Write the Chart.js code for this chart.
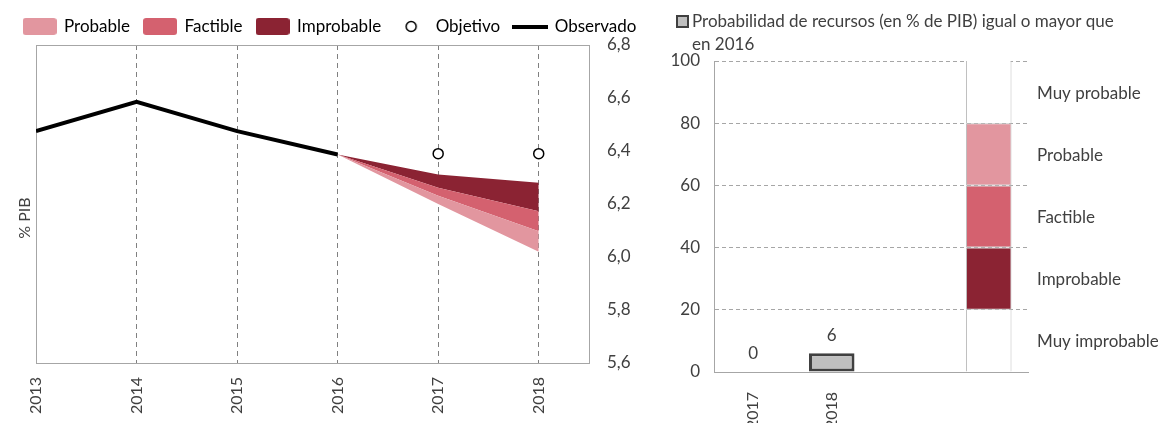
<!DOCTYPE html>
<html>
<head>
<meta charset="utf-8">
<script src="https://cdn.jsdelivr.net/npm/chart.js@4.4.0/dist/chart.umd.min.js"></script>
<style>
  body { margin: 0; background: #fff; }
  #wrap { position: relative; width: 1158px; height: 423px; }
  #left { position: absolute; left: 0; top: 0; }
  #right { position: absolute; left: 660px; top: 0; }
</style>
</head>
<body>
<div id="wrap">
  <canvas id="left" width="660" height="423"></canvas>
  <canvas id="right" width="498" height="423"></canvas>
</div>
<script>
// left panel: % PIB
const years = [2013, 2014, 2015, 2016, 2017, 2018];
const observado = [6.475, 6.586, 6.475, 6.387, null, null];
const objetivo = [null, null, null, null, 6.39, 6.39];
const probableLow = [null, null, null, 6.387, 6.200, 6.020];
const factibleLow = [null, null, null, 6.387, 6.231, 6.097];
const improbableLow = [null, null, null, 6.387, 6.261, 6.173];
const improbableHigh = [null, null, null, 6.387, 6.311, 6.280];

// right panel: probability
const barYears = ['2017', '2018', '', ''];
const recursos = [0, 6, null, null];
const escalaNames = ['Muy improbable', 'Improbable', 'Factible', 'Probable', 'Muy probable'];
const escalaSize = [20, 20, 20, 20, 20];

const colProbable = '#e2969f';
const colFactible = '#d4616f';
const colImprobable = '#8b2333';
const grayLine = '#a6a6a6';
const textCol = '#404040';
const fontName = 'Lato, "Open Sans", sans-serif';

function icon(w, h, draw) {
    const c = document.createElement('canvas');
    c.width = w; c.height = h;
    draw(c.getContext('2d'));
    return c;
}
function boxIcon(color) {
    return icon(34, 17, function (ctx) {
        ctx.fillStyle = color;
        ctx.beginPath();
        ctx.roundRect(0, 0, 34, 17, 3);
        ctx.fill();
    });
}
const circleIcon = icon(34, 17, function (ctx) {
    ctx.beginPath();
    ctx.arc(17, 8.5, 5, 0, Math.PI * 2);
    ctx.fillStyle = '#fff';
    ctx.fill();
    ctx.lineWidth = 1.5;
    ctx.strokeStyle = '#000';
    ctx.stroke();
});
const lineIcon = icon(36, 17, function (ctx) {
    ctx.fillStyle = '#000';
    ctx.fillRect(0, 7, 36, 4);
});

const legendItems = [
    { text: 'Probable', pointStyle: boxIcon(colProbable) },
    { text: 'Factible', pointStyle: boxIcon(colFactible) },
    { text: 'Improbable', pointStyle: boxIcon(colImprobable) },
    { text: 'Objetivo', pointStyle: circleIcon },
    { text: 'Observado', pointStyle: lineIcon }
];

const plotFrame = {
    id: 'plotFrame',
    beforeDatasetsDraw(chart) {
        const a = chart.chartArea, ctx = chart.ctx;
        ctx.save();
        ctx.strokeStyle = grayLine;
        ctx.lineWidth = 1;
        ctx.strokeRect(a.left + 0.5, a.top + 0.5, a.right - a.left, a.bottom - a.top);
        ctx.restore();
    },
    afterDraw(chart) {
        const ctx = chart.ctx;
        ctx.save();
        ctx.font = '16px ' + fontName;
        ctx.fillStyle = textCol;
        ctx.translate(25, 218);
        ctx.rotate(-Math.PI / 2);
        ctx.textAlign = 'center';
        ctx.textBaseline = 'middle';
        ctx.fillText('% PIB', 0, 0);
        ctx.restore();
    }
};

new Chart(document.getElementById('left'), {
    type: 'line',
    data: {
        labels: years,
        datasets: [
            { label: 'probLow', data: probableLow, borderWidth: 0, pointRadius: 0, fill: false, order: 5 },
            { label: 'Probable', data: factibleLow, borderWidth: 0, pointRadius: 0, fill: '-1', backgroundColor: colProbable, order: 5 },
            { label: 'Factible', data: improbableLow, borderWidth: 0, pointRadius: 0, fill: '-1', backgroundColor: colFactible, order: 5 },
            { label: 'Improbable', data: improbableHigh, borderWidth: 0, pointRadius: 0, fill: '-1', backgroundColor: colImprobable, order: 5 },
            { label: 'Observado', data: observado, borderColor: '#000', borderWidth: 4, pointRadius: 0, fill: false, order: 1 },
            { label: 'Objetivo', data: objetivo, showLine: false, pointRadius: 5, pointBackgroundColor: '#fff',
              pointBorderColor: '#000', pointBorderWidth: 1.5, order: 0 }
        ].map(ds => Object.assign(ds, { yAxisID: 'y' }))
    },
    options: {
        responsive: false,
        animation: false,
        layout: { padding: { top: 4 } },
        plugins: {
            legend: {
                onClick: null,
                labels: {
                    usePointStyle: true,
                    pointStyleWidth: 32,
                    boxHeight: 17,
                    padding: 14,
                    color: '#333',
                    font: { family: fontName, size: 17 },
                    generateLabels: () => legendItems.map((it, i) => ({
                        text: it.text, pointStyle: it.pointStyle, fillStyle: '#fff',
                        strokeStyle: '#fff', lineWidth: 0, hidden: false, datasetIndex: i
                    }))
                }
            },
            tooltip: { enabled: false }
        },
        scales: {
            x: {
                type: 'linear',
                min: 2013, max: 2018.5,
                afterFit: s => { s.height = 60; },
                ticks: {
                    stepSize: 1, includeBounds: false, minRotation: 90, maxRotation: 90, padding: 14,
                    color: textCol, font: { family: fontName, size: 16 },
                    callback: v => String(v)
                },
                grid: {
                    drawTicks: false,
                    color: c => (c.tick && c.tick.value === 2013) ? 'transparent' : '#808080'
                },
                border: { display: false, dash: [5, 4] }
            },
            y: {
                position: 'right',
                min: 5.6, max: 6.8,
                afterFit: s => { s.width = 71; },
                ticks: {
                    stepSize: 0.2, padding: 18, color: textCol, font: { family: fontName, size: 17 },
                    callback: v => v.toFixed(1).replace('.', ',')
                },
                grid: { display: false, drawTicks: false },
                border: { display: false }
            },
            yl: {
                position: 'left',
                afterFit: s => { s.width = 36; },
                ticks: { display: false },
                grid: { display: false },
                border: { display: false }
            }
        }
    },
    plugins: [plotFrame]
});

// right chart
const segColors = ['#fff', colImprobable, colFactible, colProbable, '#fff'];
const segDatasets = escalaNames.map((name, i) => ({
    label: name,
    data: barYears.map((y, j) => j === 3 ? escalaSize[i] : null),
    backgroundColor: segColors[i],
    borderColor: '#bfbfbf',
    borderWidth: segColors[i] === '#fff' ? { left: 1, right: 1, top: 0, bottom: 0 } : 1,
    borderSkipped: false
}));

const rightNotes = {
    id: 'rightNotes',
    afterDatasetsDraw(chart) {
        const ctx = chart.ctx, a = chart.chartArea, ys = chart.scales.y;
        ctx.save();
        ctx.font = '17px ' + fontName;
        ctx.fillStyle = textCol;
        ctx.textBaseline = 'middle';
        // value labels
        ctx.textAlign = 'center';
        chart.getDatasetMeta(0).data.forEach((bar, i) => {
            if (recursos[i] === null) return;
            ctx.fillText(String(recursos[i]), bar.x, bar.y - 18);
        });
        // scale names
        ctx.textAlign = 'left';
        let acc = 0;
        escalaNames.forEach((name, i) => {
            const mid = acc + escalaSize[i] / 2;
            acc += escalaSize[i];
            ctx.fillText(name, a.right + 9, ys.getPixelForValue(mid) + 1);
        });
        // legend note
        ctx.fillStyle = '#bfbfbf';
        ctx.fillRect(17, 16, 11, 11);
        ctx.strokeStyle = textCol;
        ctx.lineWidth = 2;
        ctx.strokeRect(17, 16, 11, 11);
        ctx.fillStyle = textCol;
        ctx.fillText('Probabilidad de recursos (en % de PIB) igual o mayor que', 32, 22);
        ctx.fillText('en 2016', 32, 45);
        ctx.restore();
    }
};

new Chart(document.getElementById('right'), {
    type: 'bar',
    data: {
        labels: barYears,
        datasets: [{
            label: 'Probabilidad de recursos (en % de PIB) igual o mayor que en 2016',
            data: recursos,
            backgroundColor: '#bfbfbf',
            borderColor: textCol,
            borderWidth: 3,
            borderSkipped: false
        }].concat(segDatasets)
    },
    options: {
        responsive: false,
        animation: false,
        datasets: { bar: { categoryPercentage: 1, barPercentage: 0.58 } },
        layout: { padding: { top: 61, right: 130 } },
        plugins: { legend: { display: false }, tooltip: { enabled: false } },
        scales: {
            x: {
                stacked: true,
                afterFit: s => { s.height = 51; },
                ticks: { minRotation: 90, maxRotation: 90, padding: 12, color: textCol, font: { family: fontName, size: 16 } },
                grid: { display: false },
                border: { display: true, color: grayLine }
            },
            y: {
                stacked: true,
                min: 0, max: 100,
                afterFit: s => { s.width = 54; },
                ticks: { stepSize: 20, padding: 14, color: textCol, font: { family: fontName, size: 17 } },
                grid: {
                    drawTicks: false,
                    color: c => (c.tick && c.tick.value === 0) ? 'transparent' : grayLine
                },
                border: { display: true, color: grayLine, dash: [4, 3] }
            }
        }
    },
    plugins: [rightNotes]
});
</script>
</body>
</html>
